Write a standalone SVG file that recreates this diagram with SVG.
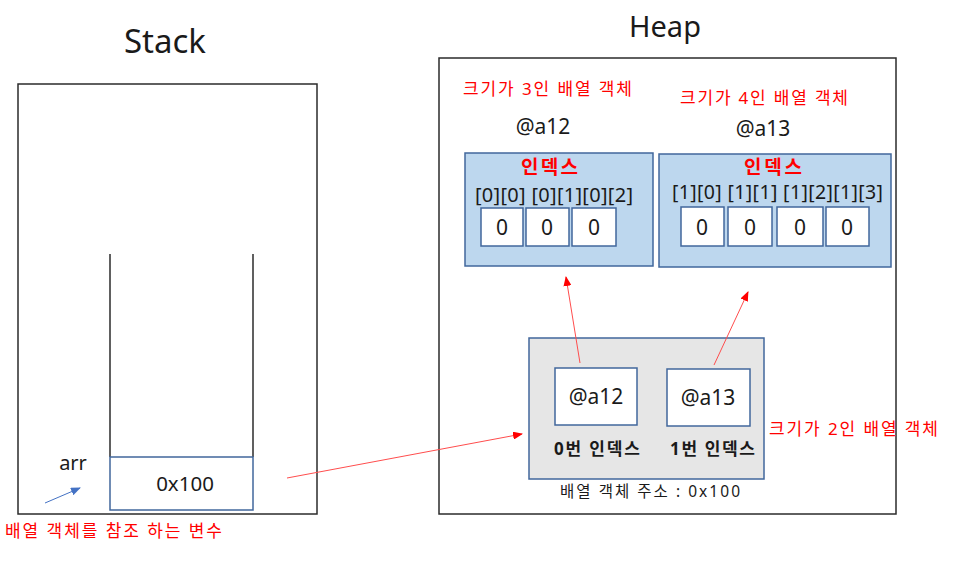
<svg xmlns="http://www.w3.org/2000/svg" width="975" height="571" viewBox="0 0 975 571">
<defs>
<style>
text{font-family:"Noto Sans","Noto Sans CJK KR",sans-serif;fill:#1a1a1a}
.red{fill:#ff0000}
.bold{font-weight:bold}
.frame{fill:#fff;stroke:#2b2b2b;stroke-width:1.5}
.blue{fill:#bdd7ee;stroke:#41679c;stroke-width:1.5}
.gray{fill:#e6e6e6;stroke:#41679c;stroke-width:1.5}
.cell{fill:#fff;stroke:#41679c;stroke-width:1.5}
.rl{stroke:#ff4d4d;stroke-width:1;fill:none}
</style>
<marker id="ah" markerWidth="10" markerHeight="8" refX="9" refY="4" orient="auto" markerUnits="userSpaceOnUse">
<path d="M0,0 L10,4 L0,8 z" fill="#ff0000"/>
</marker>
<marker id="ahb" markerWidth="10" markerHeight="8" refX="9" refY="4" orient="auto" markerUnits="userSpaceOnUse">
<path d="M0,0 L10,4 L0,8 z" fill="#4472c4"/>
</marker>
</defs>
<g id="stack">
<text x="165" y="53" font-size="33" text-anchor="middle">Stack</text>
<rect class="frame" x="18" y="84" width="299" height="430"/>
<line x1="110" y1="254" x2="110" y2="457" stroke="#2b2b2b" stroke-width="1.5"/>
<line x1="253" y1="254" x2="253" y2="457" stroke="#2b2b2b" stroke-width="1.5"/>
</g>
<g id="arr-cell">
<rect class="cell" x="110" y="457" width="143" height="53"/>
<text x="185" y="491" font-size="20.5" text-anchor="middle">0x100</text>
<text x="73" y="470" font-size="20" text-anchor="middle">arr</text>
</g>
<text class="red" x="5" y="537" font-size="17" textLength="217" lengthAdjust="spacing">배열 객체를 참조 하는 변수</text>
<g id="heap">
<text x="665" y="37" font-size="29" text-anchor="middle">Heap</text>
<rect class="frame" x="439" y="58" width="457" height="456"/>
</g>
<g id="array3">
<text class="red" x="463" y="95" font-size="17" textLength="169" lengthAdjust="spacing">크기가 3인 배열 객체</text>
<text x="543" y="134" font-size="21" text-anchor="middle">@a12</text>
<rect class="blue" x="465" y="153" width="188" height="113"/>
<text class="red bold" x="521" y="174" font-size="19" textLength="57" lengthAdjust="spacing">인덱스</text>
<text x="475" y="202" font-size="20" textLength="158" lengthAdjust="spacing">[0][0] [0][1][0][2]</text>
<rect class="cell" x="481" y="208" width="42" height="38"/>
<rect class="cell" x="526" y="208" width="43" height="38"/>
<rect class="cell" x="572" y="208" width="44" height="38"/>
<text x="502" y="235" font-size="21" text-anchor="middle">0</text>
<text x="547" y="235" font-size="21" text-anchor="middle">0</text>
<text x="594" y="235" font-size="21" text-anchor="middle">0</text>
</g>
<g id="array4">
<text class="red" x="680" y="104" font-size="17" textLength="168" lengthAdjust="spacing">크기가 4인 배열 객체</text>
<text x="763" y="136" font-size="21" text-anchor="middle">@a13</text>
<rect class="blue" x="659" y="154" width="232" height="113"/>
<text class="red bold" x="744" y="174" font-size="19" textLength="58" lengthAdjust="spacing">인덱스</text>
<text x="672" y="199" font-size="19.5" textLength="211" lengthAdjust="spacing">[1][0] [1][1] [1][2][1][3]</text>
<rect class="cell" x="681" y="207" width="43" height="39"/>
<rect class="cell" x="728" y="207" width="44" height="39"/>
<rect class="cell" x="777" y="207" width="46" height="39"/>
<rect class="cell" x="826" y="207" width="43" height="39"/>
<text x="702" y="235" font-size="21" text-anchor="middle">0</text>
<text x="750" y="235" font-size="21" text-anchor="middle">0</text>
<text x="800" y="235" font-size="21" text-anchor="middle">0</text>
<text x="847" y="235" font-size="21" text-anchor="middle">0</text>
</g>
<g id="array2">
<rect class="gray" x="529" y="338" width="235" height="141"/>
<rect class="cell" x="555" y="368" width="82" height="57"/>
<rect class="cell" x="667" y="369" width="83" height="57"/>
<text x="596" y="404" font-size="21" text-anchor="middle">@a12</text>
<text x="708" y="405" font-size="21" text-anchor="middle">@a13</text>
<text class="bold" x="554" y="455" font-size="17" textLength="86" lengthAdjust="spacing">0번 인덱스</text>
<text class="bold" x="670" y="455" font-size="17" textLength="85" lengthAdjust="spacing">1번 인덱스</text>
<text class="red" x="769" y="435" font-size="17" textLength="169" lengthAdjust="spacing">크기가 2인 배열 객체</text>
<text x="560" y="497" font-size="15.5" textLength="180" lengthAdjust="spacing">배열 객체 주소 : 0x100</text>
</g>
<g id="connectors">
<line x1="45" y1="503" x2="80" y2="488" stroke="#4472c4" stroke-width="1" marker-end="url(#ahb)"/>
<line class="rl" x1="287" y1="478" x2="522" y2="434" marker-end="url(#ah)"/>
<line class="rl" x1="580" y1="363" x2="566" y2="277" marker-end="url(#ah)"/>
<line class="rl" x1="714" y1="365" x2="748" y2="292" marker-end="url(#ah)"/>
</g>
</svg>
